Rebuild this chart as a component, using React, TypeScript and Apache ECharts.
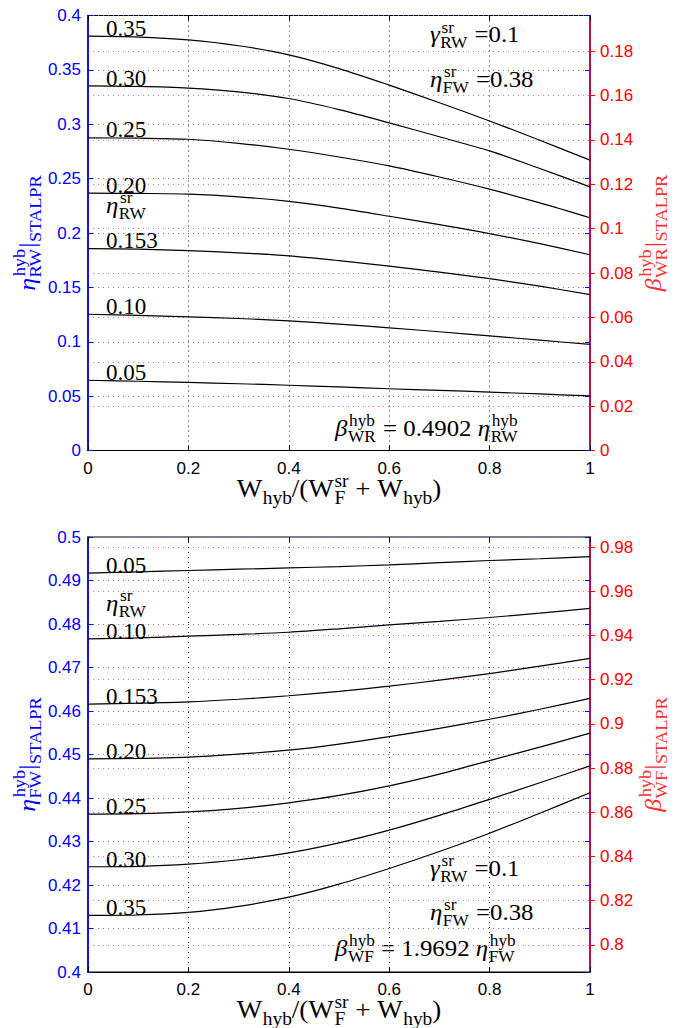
import React, { useEffect, useRef } from 'react';
import * as echarts from 'echarts';

// ---------------- data ----------------
const xFractions = [0, 0.1, 0.2, 0.3, 0.4, 0.5, 0.6, 0.7, 0.8, 0.9, 1];
const curveLabels = ['0.35', '0.30', '0.25', '0.20', '0.153', '0.10', '0.05'];

// top panel: eta_RW^hyb | STALPR
const topEta035 = [0.381, 0.3802, 0.3775, 0.3722, 0.3638, 0.3512, 0.336, 0.3198, 0.303, 0.2853, 0.267];
const topEta030 = [0.3353, 0.3348, 0.3333, 0.3298, 0.3237, 0.3135, 0.3013, 0.2885, 0.2755, 0.2593, 0.2424];
const topEta025 = [0.2875, 0.2872, 0.2862, 0.2825, 0.277, 0.2699, 0.2617, 0.2515, 0.2403, 0.2277, 0.214];
const topEta020 = [0.2366, 0.2364, 0.2358, 0.2333, 0.229, 0.2228, 0.2154, 0.2077, 0.1995, 0.1902, 0.18];
const topEta0153 = [0.1857, 0.1851, 0.1838, 0.1817, 0.179, 0.1746, 0.1695, 0.164, 0.158, 0.1511, 0.1434];
const topEta010 = [0.1253, 0.1243, 0.1229, 0.1214, 0.1192, 0.1162, 0.1128, 0.1092, 0.1054, 0.1015, 0.0975];
const topEta005 = [0.0646, 0.0637, 0.0626, 0.0614, 0.06, 0.0585, 0.0568, 0.0553, 0.0537, 0.052, 0.0502];

// bottom panel: eta_FW^hyb | STALPR
const botEta035 = [0.413, 0.4131, 0.4137, 0.4151, 0.4172, 0.4202, 0.4238, 0.4277, 0.4319, 0.4365, 0.4412];
const botEta030 = [0.4242, 0.4243, 0.4248, 0.4258, 0.4274, 0.4297, 0.4326, 0.436, 0.4397, 0.4435, 0.4474];
const botEta025 = [0.4363, 0.4364, 0.4368, 0.4376, 0.4389, 0.4406, 0.4428, 0.4455, 0.4486, 0.4517, 0.4549];
const botEta020 = [0.449, 0.4491, 0.4494, 0.4501, 0.451, 0.4524, 0.4541, 0.456, 0.4581, 0.4604, 0.4629];
const botEta0153 = [0.4616, 0.4618, 0.4621, 0.4627, 0.4635, 0.4645, 0.4657, 0.4671, 0.4686, 0.4703, 0.4721];
const botEta010 = [0.4766, 0.4768, 0.4772, 0.4776, 0.4781, 0.4789, 0.4798, 0.4806, 0.4815, 0.4825, 0.4836];
const botEta005 = [0.4917, 0.492, 0.4923, 0.4926, 0.4929, 0.4932, 0.4936, 0.4941, 0.4946, 0.495, 0.4955];

const topSeriesValues = [topEta035, topEta030, topEta025, topEta020, topEta0153, topEta010, topEta005];
const botSeriesValues = [botEta035, botEta030, botEta025, botEta020, botEta0153, botEta010, botEta005];

const topLeftMin = 0;
const topLeftMax = 0.4;
const topLeftInterval = 0.05;
const topRatio = 0.4902;
const topRightTicks = [0, 0.02, 0.04, 0.06, 0.08, 0.1, 0.12, 0.14, 0.16, 0.18];

const botLeftMin = 0.4;
const botLeftMax = 0.5;
const botLeftInterval = 0.01;
const botRatio = 1.9692;
const botRightTicks = [0.8, 0.82, 0.84, 0.86, 0.88, 0.9, 0.92, 0.94, 0.96, 0.98];

// ---------------- styling ----------------
const SERIF = 'Liberation Serif';
const SANS = 'Liberation Sans';
const BLUE = '#0000ff';
const RED = '#ff0000';
const RIGHT_AXIS = '#c0004c';
const WIDEN = 1.08;

type Seg = { t: string; it?: boolean; sup?: string; sub?: string };

let measureCtx: CanvasRenderingContext2D | null = null;
function textWidth(text: string, size: number, italic: boolean) {
  if (!measureCtx) measureCtx = document.createElement('canvas').getContext('2d');
  measureCtx!.font = `${italic ? 'italic ' : ''}${size}px "${SERIF}"`;
  return measureCtx!.measureText(text).width;
}

function txt(text: string, x: number, y: number, size: number, color: string, italic = false) {
  return {
    type: 'text',
    x,
    y,
    silent: true,
    style: {
      text,
      fontFamily: SERIF,
      fontSize: size,
      fontStyle: italic ? 'italic' : 'normal',
      fill: color,
      align: 'left',
      verticalAlign: 'middle',
    },
  };
}

function mathText(
  segs: Seg[],
  x: number,
  y: number,
  S: number,
  color: string,
  opts: { rotation?: number; center?: boolean; widen?: number } = {}
) {
  const ss = Math.round(S * 0.7);
  const children: any[] = [];
  let cx = 0;
  for (const s of segs) {
    const w = textWidth(s.t, S, !!s.it);
    children.push(txt(s.t, cx, -0.34 * S, S, color, !!s.it));
    let sw = 0;
    const off = s.it ? 1.5 : 0.5;
    if (s.sup) {
      sw = Math.max(sw, textWidth(s.sup, ss, false));
      children.push(txt(s.sup, cx + w + off, -0.42 * S - 0.34 * ss, ss, color));
    }
    if (s.sub) {
      sw = Math.max(sw, textWidth(s.sub, ss, false));
      children.push(txt(s.sub, cx + w + 0.5, 0.26 * S - 0.34 * ss, ss, color));
    }
    cx += w + (sw ? sw + off : 0);
  }
  if (opts.center) {
    for (const c of children) c.x -= cx / 2;
  }
  return {
    type: 'group',
    x,
    y,
    rotation: opts.rotation || 0,
    scaleX: opts.widen || WIDEN,
    silent: true,
    children,
  };
}

const dotted = [1, 4];

function xAxisFor(gridIndex: number) {
  return {
    type: 'value',
    gridIndex,
    position: 'bottom',
    min: 0,
    max: 1,
    interval: 0.2,
    axisLine: { show: true, onZero: false, lineStyle: { color: '#000', width: 1.2 } },
    axisTick: { show: true, inside: true, length: 5, lineStyle: { color: '#000' } },
    axisLabel: { color: '#000', fontSize: 17, fontFamily: SANS, margin: 9 },
    splitLine: { show: true, lineStyle: { color: '#222', type: dotted, width: 1 } },
  };
}

function xTopTicks(gridIndex: number) {
  return {
    type: 'value',
    gridIndex,
    position: 'top',
    min: 0,
    max: 1,
    interval: 0.2,
    axisLine: { show: false, onZero: false },
    axisTick: { show: true, inside: true, length: 5, lineStyle: { color: '#000' } },
    axisLabel: { show: false },
    splitLine: { show: false },
  };
}

function leftAxis(gridIndex: number, min: number, max: number, interval: number) {
  return {
    type: 'value',
    gridIndex,
    position: 'left',
    min,
    max,
    interval,
    axisLine: { show: true, onZero: false, lineStyle: { color: BLUE, width: 1.6 } },
    axisTick: { show: true, inside: true, length: 5, lineStyle: { color: BLUE } },
    axisLabel: { color: BLUE, fontSize: 17, fontFamily: SANS, margin: 7 },
    splitLine: { show: true, lineStyle: { color: '#6f6fff', type: dotted, width: 1 } },
  };
}

function leftMirror(gridIndex: number, min: number, max: number, interval: number) {
  return {
    type: 'value',
    gridIndex,
    position: 'right',
    min,
    max,
    interval,
    axisLine: { show: false, onZero: false },
    axisTick: { show: true, inside: true, length: 5, lineStyle: { color: BLUE } },
    axisLabel: { show: false },
    splitLine: { show: false },
  };
}

function rightAxis(gridIndex: number, min: number, max: number, ticks: number[]) {
  return {
    type: 'value',
    gridIndex,
    position: 'right',
    min,
    max,
    axisLine: { show: true, onZero: false, lineStyle: { color: RIGHT_AXIS, width: 1.6 } },
    axisTick: { show: true, inside: false, length: 5, customValues: ticks, lineStyle: { color: RED } },
    axisLabel: { color: RED, fontSize: 17, fontFamily: SANS, margin: 10, customValues: ticks },
    splitLine: { show: true, lineStyle: { color: '#ff7070', type: dotted, width: 1 } },
  };
}

export default function App() {
  const ref = useRef<HTMLDivElement>(null);

  useEffect(() => {
    if (!ref.current) return;
    const chart = echarts.init(ref.current, undefined, { renderer: 'svg' });

    const gridLeft = 88;
    const gridWidth = 502;
    const plotH = 435;
    const topTop = 15.5;
    const botTop = 537;

    const series: any[] = [];
    topSeriesValues.forEach((vals, i) => {
      series.push({
        name: 'top ' + curveLabels[i],
        type: 'line',
        xAxisIndex: 0,
        yAxisIndex: 0,
        data: xFractions.map((x, k) => [x, vals[k]]),
        smooth: 0.3,
        symbol: 'none',
        lineStyle: { color: '#000', width: 1.2 },
      });
    });
    botSeriesValues.forEach((vals, i) => {
      series.push({
        name: 'bottom ' + curveLabels[i],
        type: 'line',
        xAxisIndex: 1,
        yAxisIndex: 2,
        data: xFractions.map((x, k) => [x, vals[k]]),
        smooth: 0.3,
        symbol: 'none',
        lineStyle: { color: '#000', width: 1.2 },
      });
    });

    const S = 23;
    const topLabelBase = [36, 86, 137.5, 193, 248.5, 314, 380];
    const botLabelBase = [915, 867, 814, 759, 704, 639, 573];
    const graphics: any[] = [];
    curveLabels.forEach((lab, i) => {
      graphics.push(txt(lab, 106, topLabelBase[i] - 0.34 * S, S, '#000'));
      graphics.push(txt(lab, 106, botLabelBase[i] - 0.34 * S, S, '#000'));
    });
    graphics.push(mathText([{ t: 'η', it: true, sup: 'sr', sub: 'RW' }], 106, 213, S, '#000'));
    graphics.push(mathText([{ t: 'η', it: true, sup: 'sr', sub: 'RW' }], 106, 611, S, '#000'));

    // top annotations
    graphics.push(mathText([{ t: 'γ', it: true, sup: 'sr', sub: 'RW' }, { t: ' =0.1' }], 430, 42.5, S, '#000'));
    graphics.push(mathText([{ t: 'η', it: true, sup: 'sr', sub: 'FW' }, { t: ' =0.38' }], 430, 87, S, '#000'));
    graphics.push(
      mathText(
        [{ t: 'β', it: true, sup: 'hyb', sub: 'WR' }, { t: ' = 0.4902 ' }, { t: 'η', it: true, sup: 'hyb', sub: 'RW' }],
        335,
        436,
        S,
        '#000'
      )
    );
    // bottom annotations
    graphics.push(mathText([{ t: 'γ', it: true, sup: 'sr', sub: 'RW' }, { t: ' =0.1' }], 430, 876, S, '#000'));
    graphics.push(mathText([{ t: 'η', it: true, sup: 'sr', sub: 'FW' }, { t: ' =0.38' }], 430, 920, S, '#000'));
    graphics.push(
      mathText(
        [{ t: 'β', it: true, sup: 'hyb', sub: 'WF' }, { t: ' = 1.9692 ' }, { t: 'η', it: true, sup: 'hyb', sub: 'FW' }],
        335,
        956,
        S,
        '#000'
      )
    );

    // x-axis names
    const xName: Seg[] = [
      { t: 'W', sub: 'hyb' },
      { t: '/(' },
      { t: 'W', sup: 'sr', sub: 'F' },
      { t: ' + ' },
      { t: 'W', sub: 'hyb' },
      { t: ')' },
    ];
    graphics.push(mathText(xName, gridLeft + gridWidth / 2, 497, 25, '#000', { center: true }));
    graphics.push(mathText(xName, gridLeft + gridWidth / 2, 1018, 25, '#000', { center: true }));

    // y-axis names
    const topMid = topTop + plotH / 2;
    const botMid = botTop + plotH / 2;
    graphics.push(
      mathText([{ t: 'η', it: true, sup: 'hyb', sub: 'RW' }, { t: '|', sub: 'STALPR' }], 35, topMid, 24, BLUE, {
        rotation: Math.PI / 2,
        center: true,
      })
    );
    graphics.push(
      mathText([{ t: 'η', it: true, sup: 'hyb', sub: 'FW' }, { t: '|', sub: 'STALPR' }], 35, botMid, 24, BLUE, {
        rotation: Math.PI / 2,
        center: true,
      })
    );
    graphics.push(
      mathText([{ t: 'β', it: true, sup: 'hyb', sub: 'WR' }, { t: '|', sub: 'STALPR' }], 661, topMid, 24, '#ff3030', {
        rotation: Math.PI / 2,
        center: true,
      })
    );
    graphics.push(
      mathText([{ t: 'β', it: true, sup: 'hyb', sub: 'WF' }, { t: '|', sub: 'STALPR' }], 661, botMid, 24, '#ff3030', {
        rotation: Math.PI / 2,
        center: true,
      })
    );

    const gridCommon = {
      left: gridLeft,
      width: gridWidth,
      height: plotH,
      show: true,
      borderColor: '#000',
      borderWidth: 1.2,
      backgroundColor: 'transparent',
      containLabel: false,
      outerBoundsMode: 'none',
    };

    chart.setOption({
      animation: false,
      backgroundColor: '#fff',
      grid: [
        { ...gridCommon, top: topTop },
        { ...gridCommon, top: botTop },
      ],
      xAxis: [xAxisFor(0), xAxisFor(1), xTopTicks(0), xTopTicks(1)],
      yAxis: [
        leftAxis(0, topLeftMin, topLeftMax, topLeftInterval),
        rightAxis(0, topLeftMin * topRatio, topLeftMax * topRatio, topRightTicks),
        leftAxis(1, botLeftMin, botLeftMax, botLeftInterval),
        rightAxis(1, botLeftMin * botRatio, botLeftMax * botRatio, botRightTicks),
        leftMirror(0, topLeftMin, topLeftMax, topLeftInterval),
        leftMirror(1, botLeftMin, botLeftMax, botLeftInterval),
      ],
      series,
      graphic: { elements: graphics },
    });

    return () => chart.dispose();
  }, []);

  return (
    <div
      ref={ref}
      style={{ position: 'fixed', left: 0, top: 0, width: 685, height: 1028, background: '#fff' }}
    />
  );
}
